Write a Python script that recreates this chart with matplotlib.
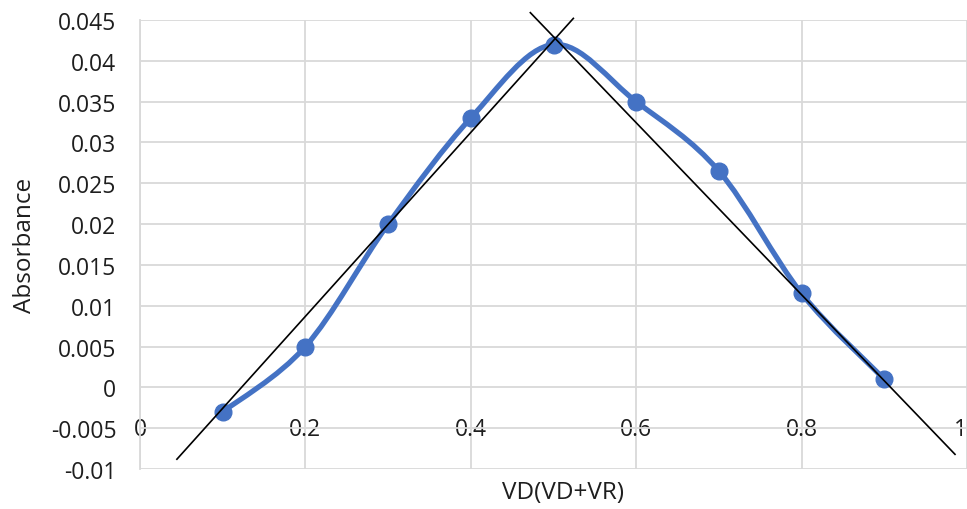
import numpy as np
import matplotlib
matplotlib.use('Agg')
import matplotlib.pyplot as plt
from matplotlib.path import Path
from matplotlib.patches import PathPatch
from matplotlib.ticker import FuncFormatter, MultipleLocator

plt.rcParams['font.family'] = ['Open Sans', 'DejaVu Sans']

# mole fraction vs absorbance (job's plot)
fraccion = [0.1, 0.2, 0.3, 0.4, 0.5, 0.6, 0.7, 0.8, 0.9]
absorbancia = [-0.003, 0.005, 0.020, 0.033, 0.042, 0.035, 0.0265, 0.0115, 0.001]

# rectas trazadas a mano sobre la grafica
recta1_x = [0.0446, 0.524]
recta1_y = [-0.0088, 0.0452]
recta2_x = [0.472, 0.9855]
recta2_y = [0.0459, -0.0082]

xticks = [0, 0.2, 0.4, 0.6, 0.8, 1.0]
azul = '#4472C4'
gris = '#d9d9d9'
texto = '#1e1e1e'


def curva_suave(x, y):
    # bezier estilo excel (catmull-rom)
    pts = np.column_stack([x, y])
    verts = [pts[0]]
    codes = [Path.MOVETO]
    n = len(pts)
    for i in range(n - 1):
        p0 = pts[i - 1] if i > 0 else pts[i]
        p1 = pts[i]
        p2 = pts[i + 1]
        p3 = pts[i + 2] if i + 2 < n else pts[i + 1]
        c1 = p1 + (p2 - p0) / 6
        c2 = p2 - (p3 - p1) / 6
        verts += [c1, c2, p2]
        codes += [Path.CURVE4] * 3
    return Path(verts, codes)


fig = plt.figure(figsize=(9.67, 5.1), dpi=100)
ax = fig.add_axes([0.1448, 0.0784, 0.8552, 0.8804])

ax.set_xlim(0, 1)
ax.set_ylim(-0.01, 0.045)
ax.yaxis.set_major_locator(MultipleLocator(0.005))
ax.set_xticks(xticks)
ax.xaxis.set_major_formatter(FuncFormatter(lambda v, p: '%g' % round(v, 3)))
ax.yaxis.set_major_formatter(FuncFormatter(lambda v, p: '%g' % round(v, 4)))

ax.grid(True, color=gris, linewidth=1.3)
ax.set_axisbelow(True)
for s in ['top', 'right', 'bottom']:
    ax.spines[s].set_visible(False)
ax.spines['left'].set_color(gris)
ax.spines['left'].set_linewidth(1.3)
ax.spines['bottom'].set_position(('data', 0))
ax.tick_params(axis='both', length=0, labelsize=16.5, colors=texto)
ax.tick_params(axis='x', pad=21)
ax.tick_params(axis='y', pad=17)

# el "1" queda pegado al borde derecho
ax.get_xticklabels()[-1].set_horizontalalignment('right')

ax.add_patch(PathPatch(curva_suave(fraccion, absorbancia), facecolor='none',
                       edgecolor=azul, linewidth=3.8, zorder=3, capstyle='round'))
ax.plot(fraccion, absorbancia, 'o', color=azul, markersize=12, zorder=4)

ax.plot(recta1_x, recta1_y, color='black', linewidth=1.2, zorder=5, clip_on=False)
ax.plot(recta2_x, recta2_y, color='black', linewidth=1.2, zorder=5, clip_on=False)

ax.set_ylabel('Absorbance', fontsize=17.5, color=texto)
ax.yaxis.set_label_coords(-0.124, 0.5)
fig.text(0.582, 0.033, 'VD(VD+VR)', fontsize=17.5, color=texto, ha='center', va='center')

plt.savefig('out.png', dpi=100)
